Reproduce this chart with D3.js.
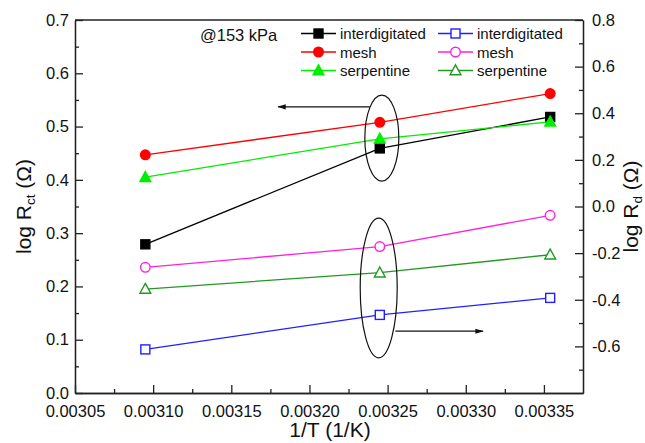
<!DOCTYPE html>
<html>
<head>
<meta charset="utf-8">
<script src="https://cdn.jsdelivr.net/npm/d3@7"></script>
<style>
  html, body { margin: 0; padding: 0; background: #fff; }
  svg { display: block; font-family: "Liberation Sans", Arial, sans-serif; }
</style>
</head>
<body>
<svg id="chart" width="645" height="443"></svg>
<script>
// Inverse temperature (1/K) at which each cell was measured
const invT = [0.003095, 0.003245, 0.003354];

// Charge-transfer resistance, log scale (left axis)
const rctInterdigitated = [0.279, 0.459, 0.518];
const rctMesh           = [0.447, 0.508, 0.562];
const rctSerpentine     = [0.405, 0.477, 0.509];

// Diffusion resistance, log scale (right axis)
const rdInterdigitated = [-0.613, -0.465, -0.392];
const rdMesh           = [-0.261, -0.172, -0.038];
const rdSerpentine     = [-0.354, -0.284, -0.207];

// Axis ticks
const xTicks      = [0.00305, 0.00310, 0.00315, 0.00320, 0.00325, 0.00330, 0.00335];
const xMinorTicks = [0.003075, 0.003125, 0.003175, 0.003225, 0.003275, 0.003325];
const yLeftTicks  = [0.0, 0.1, 0.2, 0.3, 0.4, 0.5, 0.6, 0.7];
const yLeftMinor  = [0.05, 0.15, 0.25, 0.35, 0.45, 0.55, 0.65];
const yRightTicks = [-0.6, -0.4, -0.2, 0.0, 0.2, 0.4, 0.6, 0.8];
const yRightMinor = [-0.7, -0.5, -0.3, -0.1, 0.1, 0.3, 0.5, 0.7];

const conditionLabel = "@153 kPa";

const series = [
  { name: "interdigitated", values: rctInterdigitated, axis: "left",  color: "#000000", shape: "square",   filled: true },
  { name: "mesh",           values: rctMesh,           axis: "left",  color: "#ff0000", shape: "circle",   filled: true },
  { name: "serpentine",     values: rctSerpentine,     axis: "left",  color: "#00ee00", shape: "triangle", filled: true },
  { name: "interdigitated", values: rdInterdigitated,  axis: "right", color: "#2020ff", shape: "square",   filled: false },
  { name: "mesh",           values: rdMesh,            axis: "right", color: "#ff20e0", shape: "circle",   filled: false },
  { name: "serpentine",     values: rdSerpentine,      axis: "right", color: "#229922", shape: "triangle", filled: false }
];

const W = 645, H = 443;
const margin = { top: 20, right: 62, bottom: 50, left: 75 };
const x0 = margin.left, x1 = W - margin.right;
const y0 = H - margin.bottom, y1 = margin.top;

const x  = d3.scaleLinear().domain([0.00305, 0.003375]).range([x0, x1]);
const yL = d3.scaleLinear().domain([0, 0.7]).range([y0, y1]);
const yR = d3.scaleLinear().domain([-0.8, 0.8]).range([y0, y1]);

const svg = d3.select("#chart");
const tickFont = 16.5;

// plain hyphen for negative labels
const fmt1 = v => d3.format(".1f")(v).replace("\u2212", "-");

// Axes with inward ticks
const xAxis = d3.axisBottom(x).tickValues(xTicks).tickFormat(d3.format(".5f")).tickSizeInner(-8).tickSizeOuter(0).tickPadding(12);
const xMinor = d3.axisBottom(x).tickValues(xMinorTicks).tickFormat("").tickSizeInner(-4).tickSizeOuter(0);
const yLAxis = d3.axisLeft(yL).tickValues(yLeftTicks).tickFormat(fmt1).tickSizeInner(-8).tickSizeOuter(0).tickPadding(6);
const yLMinor = d3.axisLeft(yL).tickValues(yLeftMinor).tickFormat("").tickSizeInner(-4).tickSizeOuter(0);
const yRAxis = d3.axisRight(yR).tickValues(yRightTicks).tickFormat(fmt1).tickSizeInner(-8).tickSizeOuter(0).tickPadding(9);
const yRMinor = d3.axisRight(yR).tickValues(yRightMinor).tickFormat("").tickSizeInner(-4).tickSizeOuter(0);

function styleAxis(g) {
  g.selectAll("path, line").attr("stroke", "#222").attr("stroke-width", 1.3);
  g.selectAll("text").attr("font-size", tickFont).attr("fill", "#111").attr("font-family", "Liberation Sans, Arial, sans-serif");
}

svg.append("g").attr("transform", `translate(0,${y0})`).call(xAxis).call(styleAxis);
svg.append("g").attr("transform", `translate(0,${y0})`).call(xMinor).call(styleAxis);
svg.append("g").attr("transform", `translate(${x0},0)`).call(yLAxis).call(styleAxis);
svg.append("g").attr("transform", `translate(${x0},0)`).call(yLMinor).call(styleAxis);
svg.append("g").attr("transform", `translate(${x1},0)`).call(yRAxis).call(styleAxis);
svg.append("g").attr("transform", `translate(${x1},0)`).call(yRMinor).call(styleAxis);
// top frame line
svg.append("line").attr("x1", x0).attr("x2", x1).attr("y1", y1).attr("y2", y1)
  .attr("stroke", "#222").attr("stroke-width", 1.3);

// Axis titles
svg.append("text").attr("x", (x0 + x1) / 2 + 1).attr("y", 437).attr("text-anchor", "middle")
  .attr("font-size", 21).attr("fill", "#111").text("1/T (1/K)");

function yTitle(tx, sub) {
  const t = svg.append("text").attr("transform", `translate(${tx},${(y0 + y1) / 2}) rotate(-90)`)
    .attr("text-anchor", "middle").attr("font-size", 21).attr("fill", "#111");
  t.append("tspan").text("log R");
  t.append("tspan").attr("font-size", 13.5).attr("dy", 4).text(sub);
  t.append("tspan").attr("dy", -4).text(" (\u03A9)");
}
yTitle(31, "ct");
yTitle(638, "d");

// Markers
function drawMarker(g, shape, cx, cy, color, filled, size) {
  const fill = filled ? color : "#fff";
  if (shape === "square") {
    g.append("rect").attr("x", cx - size / 2).attr("y", cy - size / 2).attr("width", size).attr("height", size)
      .attr("fill", fill).attr("stroke", color).attr("stroke-width", 1.4);
  } else if (shape === "circle") {
    g.append("circle").attr("cx", cx).attr("cy", cy).attr("r", size / 2 + 0.3)
      .attr("fill", fill).attr("stroke", color).attr("stroke-width", 1.4);
  } else {
    const h = size * 1.05, w = size * 1.2;
    g.append("path").attr("d", `M${cx},${cy - h * 0.6}L${cx + w / 2},${cy + h * 0.45}L${cx - w / 2},${cy + h * 0.45}Z`)
      .attr("fill", fill).attr("stroke", color).attr("stroke-width", 1.4);
  }
}

const line = d3.line();
series.forEach(s => {
  const ys = s.axis === "left" ? yL : yR;
  const pts = s.values.map((v, i) => [x(invT[i]), ys(v)]);
  svg.append("path").attr("d", line(pts)).attr("fill", "none").attr("stroke", s.color).attr("stroke-width", 1.3);
  const g = svg.append("g");
  pts.forEach(p => drawMarker(g, s.shape, p[0], p[1], s.color, s.filled, 9));
});

// Annotations: ellipses grouping each data set and arrows pointing to its axis
const annot = svg.append("g").attr("fill", "none").attr("stroke", "#111").attr("stroke-width", 1.2);
annot.append("ellipse").attr("cx", x(0.0032463)).attr("cy", yL(0.4785)).attr("rx", 17).attr("ry", yL(0) - yL(0.0807));
annot.append("ellipse").attr("cx", x(0.0032443)).attr("cy", yL(0.197)).attr("rx", 18.5).attr("ry", yL(0) - yL(0.131));

svg.append("defs").append("marker").attr("id", "arrowHead").attr("viewBox", "0 0 10 10")
  .attr("refX", 9).attr("refY", 5).attr("markerWidth", 7).attr("markerHeight", 7).attr("orient", "auto")
  .append("path").attr("d", "M0,2L10,5L0,8Z").attr("fill", "#111");

annot.append("line").attr("x1", x(0.0032386)).attr("x2", x(0.003180))
  .attr("y1", yL(0.537)).attr("y2", yL(0.537)).attr("marker-end", "url(#arrowHead)");
annot.append("line").attr("x1", x(0.003255)).attr("x2", x(0.003311))
  .attr("y1", yL(0.116)).attr("y2", yL(0.116)).attr("marker-end", "url(#arrowHead)");

// Legend
svg.append("text").attr("x", 200).attr("y", 41).attr("font-size", 16.5).attr("fill", "#111").text(conditionLabel);

const legendCols = [301, 438];
const legendRows = [33.5, 52, 70.5];
series.forEach((s, i) => {
  const col = s.axis === "left" ? 0 : 1;
  const row = i % 3;
  const lx = legendCols[col], ly = legendRows[row];
  const g = svg.append("g");
  g.append("line").attr("x1", lx).attr("x2", lx + 35).attr("y1", ly).attr("y2", ly)
    .attr("stroke", s.color).attr("stroke-width", 1.3);
  drawMarker(g, s.shape, lx + 17.5, ly, s.color, s.filled, 9);
  g.append("text").attr("x", lx + 39).attr("y", ly + 5.5).attr("font-size", 15).attr("fill", "#111").text(s.name);
});
</script>
</body>
</html>
